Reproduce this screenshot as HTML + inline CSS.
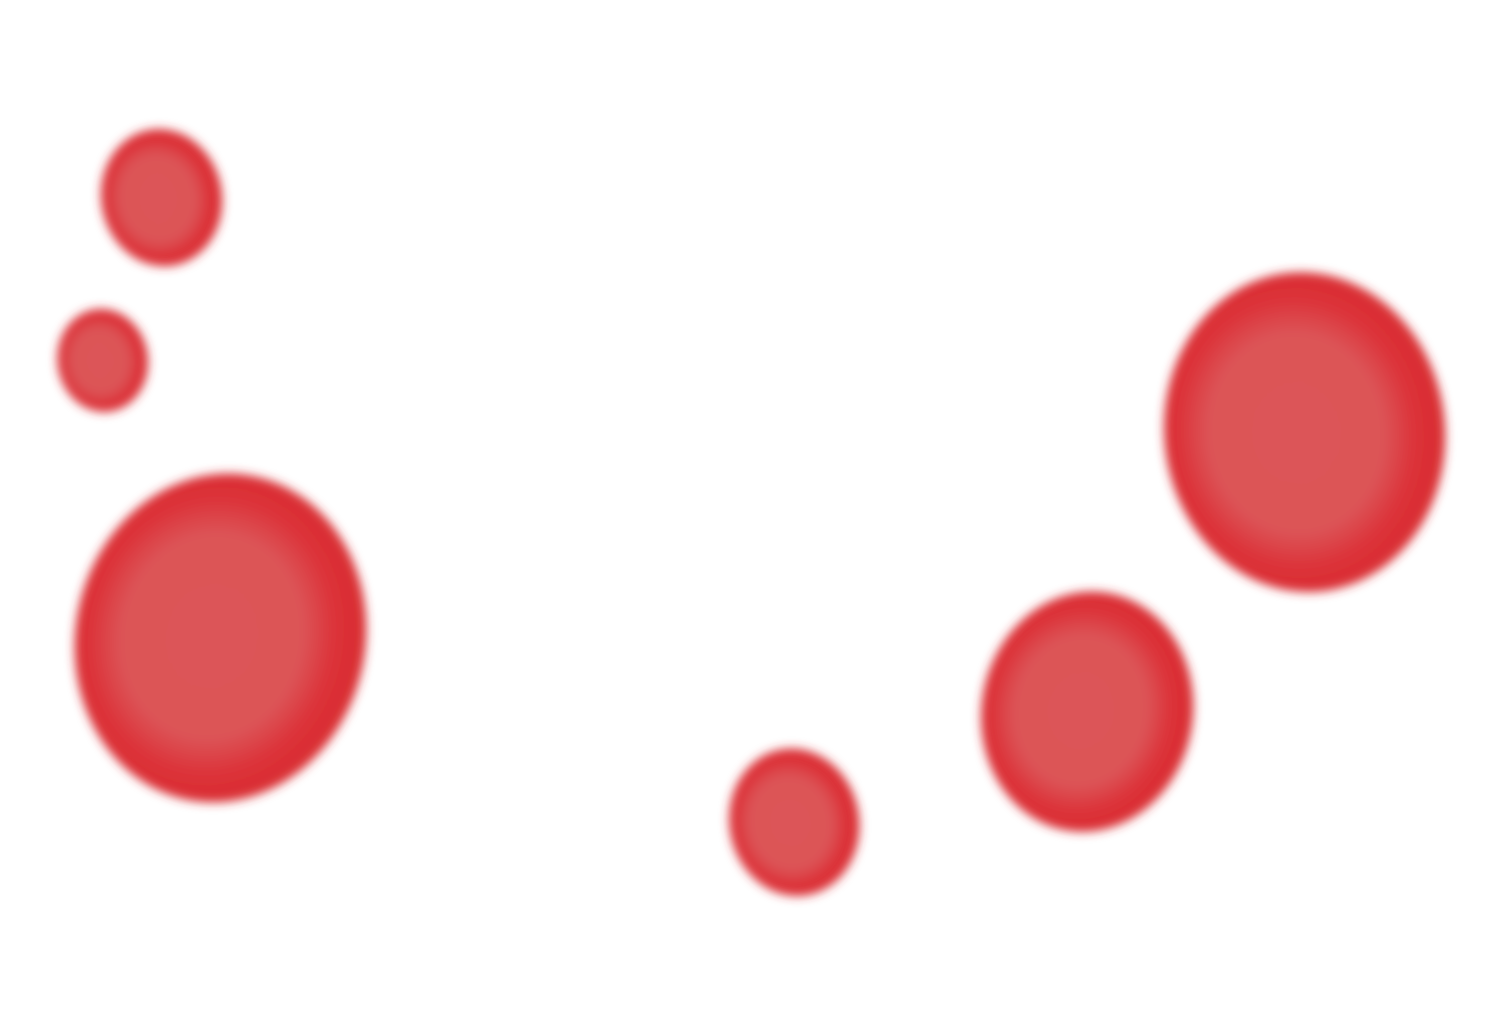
<!DOCTYPE html>
<html>
<head>
<meta charset="utf-8">
<style>
  html,body{margin:0;padding:0;background:#ffffff;}
  svg{display:block;}
</style>
</head>
<body>
<svg id="chart" width="1510" height="1024" viewBox="0 0 1510 1024" xmlns="http://www.w3.org/2000/svg">
  <defs>
    <radialGradient id="fillGrad" cx="0.47" cy="0.5" r="0.5">
      <stop offset="0" stop-color="#dc5558"/>
      <stop offset="0.62" stop-color="#dc5457"/>
      <stop offset="0.85" stop-color="#dc3138"/>
      <stop offset="1" stop-color="#d92d33"/>
    </radialGradient>
    <filter id="blur" x="-20%" y="-20%" width="140%" height="140%">
      <feGaussianBlur stdDeviation="5"/>
    </filter>
  </defs>
  <g id="bubbles" filter="url(#blur)"></g>
</svg>
<script>
// Data (x, y in data units 0-100; size = bubble radius in data units)
const labels = ["b1", "b2", "b3", "b4", "b5", "b6"];
const xValues = [10.7, 6.8, 14.6, 52.6, 72.0, 86.4];
const yValues = [80.7, 64.8, 37.7, 19.7, 30.5, 57.8];
const sizes = [4.0, 3.0, 9.6, 4.3, 7.0, 9.3];

const W = 1510, H = 1024;
const xScale = v => v / 100 * W;
const yScale = v => H - v / 100 * H;
const rScale = v => v / 100 * W;
const aspect = 1.14;
const tilts = [-10, -8, 12, -10, 10, -6];

const g = document.getElementById('bubbles');
const NS = 'http://www.w3.org/2000/svg';
for (let i = 0; i < labels.length; i++) {
  const cx = xScale(xValues[i]);
  const cy = yScale(yValues[i]);
  const rx = rScale(sizes[i]);
  const e = document.createElementNS(NS, 'ellipse');
  e.setAttribute('cx', cx);
  e.setAttribute('cy', cy);
  e.setAttribute('rx', rx);
  e.setAttribute('ry', rx * aspect);
  e.setAttribute('fill', 'url(#fillGrad)');
  e.setAttribute('transform', `rotate(${tilts[i]} ${cx} ${cy})`);
  
  
  g.appendChild(e);
}
</script>
</body>
</html>
